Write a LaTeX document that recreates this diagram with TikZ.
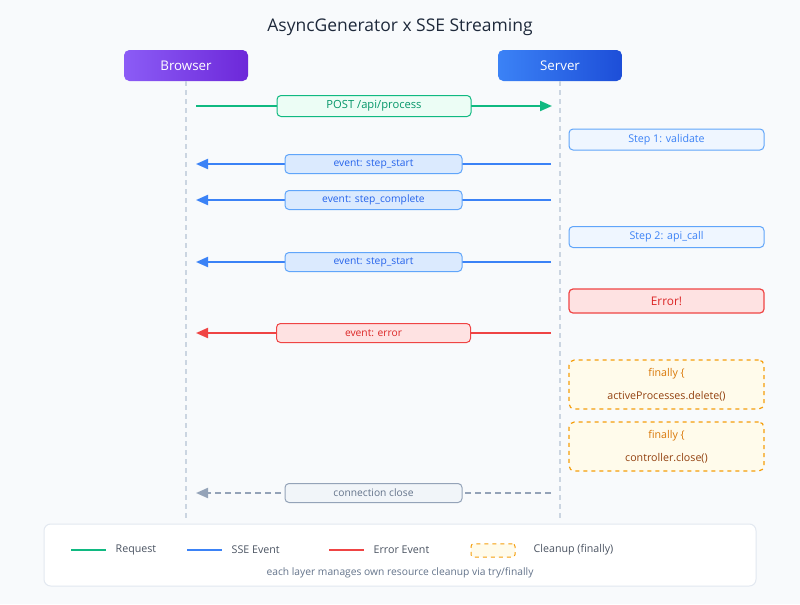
\documentclass[tikz,border=0pt]{standalone}
\usepackage{fontspec}
\setmainfont{Open Sans}
\usepackage{tikz}
\usetikzlibrary{arrows.meta}

\definecolor{bgcol}{HTML}{F8FAFC}
\definecolor{titlecol}{HTML}{1E293B}
\definecolor{lifecol}{HTML}{CBD5E1}
\definecolor{reqcol}{HTML}{10B981}
\definecolor{reqfill}{HTML}{ECFDF5}
\definecolor{reqtext}{HTML}{059669}
\definecolor{ssecol}{HTML}{3B82F6}
\definecolor{ssestroke}{HTML}{60A5FA}
\definecolor{ssefill}{HTML}{DBEAFE}
\definecolor{ssetext}{HTML}{2563EB}
\definecolor{stepfill}{HTML}{EFF6FF}
\definecolor{errcol}{HTML}{EF4444}
\definecolor{errfill}{HTML}{FEE2E2}
\definecolor{errtext}{HTML}{DC2626}
\definecolor{fincol}{HTML}{F59E0B}
\definecolor{finfill}{HTML}{FFFBEB}
\definecolor{fintext}{HTML}{D97706}
\definecolor{codetext}{HTML}{92400E}
\definecolor{closecol}{HTML}{94A3B8}
\definecolor{closefill}{HTML}{F1F5F9}
\definecolor{closetext}{HTML}{64748B}
\definecolor{legendline}{HTML}{E2E8F0}
\definecolor{brwA}{HTML}{8B5CF6}
\definecolor{brwB}{HTML}{6D28D9}
\definecolor{srvA}{HTML}{3B82F6}
\definecolor{srvB}{HTML}{1D4ED8}

\begin{document}
\begin{tikzpicture}[x=0.75pt, y=-0.75pt, >={Triangle[length=9pt, width=7.5pt]},
	actor/.style={rounded corners=4pt, inner sep=0pt, minimum width=93pt, minimum height=23.25pt, text=white, font=\fontsize{10}{12}\selectfont},
	life/.style={lifecol, line width=1.1pt, dash pattern=on 3.75pt off 3pt},
	req/.style={reqcol, line width=1.5pt, ->},
	reqlabel/.style={solid, draw=reqcol, fill=reqfill, text=reqtext, rounded corners=3pt, line width=0.75pt, inner sep=0pt, minimum width=145.5pt, minimum height=15.75pt, font=\fontsize{8.4}{9}\selectfont},
	sse/.style={ssecol, line width=1.5pt, ->},
	sselabel/.style={solid, draw=ssestroke, fill=ssefill, text=ssetext, rounded corners=3pt, line width=0.75pt, inner sep=0pt, minimum width=132.75pt, minimum height=14.25pt, font=\fontsize{7.7}{8}\selectfont},
	stepbox/.style={draw=ssestroke, fill=stepfill, text=ssecol, rounded corners=3pt, line width=0.75pt, inner sep=0pt, minimum width=146.25pt, minimum height=15.75pt, font=\fontsize{8}{9}\selectfont},
	errbox/.style={draw=errcol, fill=errfill, text=errtext, rounded corners=3pt, line width=0.9pt, inner sep=0pt, minimum width=146.25pt, minimum height=18pt, font=\fontsize{8.9}{10}\selectfont},
	err/.style={errcol, line width=1.5pt, ->},
	errlabel/.style={solid, draw=errcol, fill=errfill, text=errtext, rounded corners=3pt, line width=0.75pt, inner sep=0pt, minimum width=145.5pt, minimum height=14.25pt, font=\fontsize{7.7}{8}\selectfont},
	finbox/.style={draw=fincol, fill=finfill, dashed, rounded corners=4pt, line width=0.9pt, inner sep=0pt, minimum width=146.25pt, minimum height=36.75pt},
	fintitle/.style={text=fintext, font=\fontsize{8}{9}\selectfont},
	fincode/.style={text=codetext, font=\fontsize{8}{9}\selectfont},
	closing/.style={closecol, line width=1.5pt, dash pattern=on 4.5pt off 3pt, ->},
	closelabel/.style={solid, draw=closecol, fill=closefill, text=closetext, rounded corners=3pt, line width=0.75pt, inner sep=0pt, minimum width=132.75pt, minimum height=14.25pt, font=\fontsize{7.7}{8}\selectfont},
	legtext/.style={anchor=west, text=titlecol!80, font=\fontsize{8}{9}\selectfont}]

	% Background and frame
	\useasboundingbox (0,0) rectangle (800,604);
	\fill[bgcol] (0,0) rectangle (800,604);
	\node[text=titlecol, font=\fontsize{13.1}{15}\selectfont] (title) at (400,27) {AsyncGenerator x SSE Streaming};

	% Participants
	\node[actor, left color=brwA, right color=brwB] (browser) at (186,65.5) {Browser};
	\node[actor, left color=srvA, right color=srvB] (server) at (560,65.5) {Server};

	% Lifelines
	\coordinate (bEnd) at (186,522);
	\coordinate (sEnd) at (560,522);
	\draw[life] (browser.south) -- (bEnd);
	\draw[life] (server.south) -- (sEnd);

	% Request
	\coordinate (br1) at (196,106);
	\coordinate (sv1) at (552,106);
	\draw[req] (br1) -- node[reqlabel] (post) {POST /api/process} (sv1);

	% Step 1
	\node[stepbox] (step1) at (666.5,139.5) {Step 1: validate};
	\coordinate (sv2) at (551,164);
	\coordinate (br2) at (196,164);
	\draw[sse] (sv2) -- node[sselabel] (start1) {event: step\_start} (br2);
	\coordinate (sv3) at (551,200);
	\coordinate (br3) at (196,200);
	\draw[sse] (sv3) -- node[sselabel] (complete1) {event: step\_complete} (br3);

	% Step 2
	\node[stepbox] (step2) at (666.5,237) {Step 2: api\_call};
	\coordinate (sv4) at (551,262);
	\coordinate (br4) at (196,262);
	\draw[sse] (sv4) -- node[sselabel] (start2) {event: step\_start} (br4);

	% Error
	\node[errbox] (error) at (666.5,301) {Error!};
	\coordinate (sv5) at (551,333);
	\coordinate (br5) at (196,333);
	\draw[err] (sv5) -- node[errlabel] (errevent) {event: error} (br5);

	% Cleanup
	\node[finbox] (fin1) at (666.5,384.5) {};
	\node[fintitle] (fin1a) at (666.5,374) {finally \{};
	\node[fincode] (fin1b) at (666.5,396) {activeProcesses.delete()};
	\node[finbox] (fin2) at (666.5,446.5) {};
	\node[fintitle] (fin2a) at (666.5,436) {finally \{};
	\node[fincode] (fin2b) at (666.5,458) {controller.close()};

	% Connection close
	\coordinate (sv6) at (551,493);
	\coordinate (br6) at (196,493);
	\draw[closing] (sv6) -- node[closelabel] (close) {connection close} (br6);

	% Legend
	\node[draw=legendline, fill=white, rounded corners=5pt, line width=0.75pt, inner sep=0pt, minimum width=534pt, minimum height=46.5pt] (legend) at (400,555) {};
	\draw[reqcol, line width=1.5pt] (71,550) coordinate (lg1a) -- (106,550) coordinate (lg1b);
	\node[legtext] (lgreq) at (111,550) {Request};
	\draw[ssecol, line width=1.5pt] (187,550) coordinate (lg2a) -- (222,550) coordinate (lg2b);
	\node[legtext] (lgsse) at (227,550) {SSE Event};
	\draw[errcol, line width=1.5pt] (329,550) coordinate (lg3a) -- (364,550) coordinate (lg3b);
	\node[legtext] (lgerr) at (369,550) {Error Event};
	\node[draw=fincol, fill=finfill, dashed, line width=0.75pt, rounded corners=2pt, inner sep=0pt, minimum width=33pt, minimum height=10pt] (lgfin) at (493,550.5) {};
	\node[legtext] (lgclean) at (529,550) {Cleanup (finally)};
	\node[text=closetext, font=\fontsize{7.7}{8}\selectfont] (note) at (400,573) {each layer manages own resource cleanup via try/finally};
\end{tikzpicture}
\end{document}
